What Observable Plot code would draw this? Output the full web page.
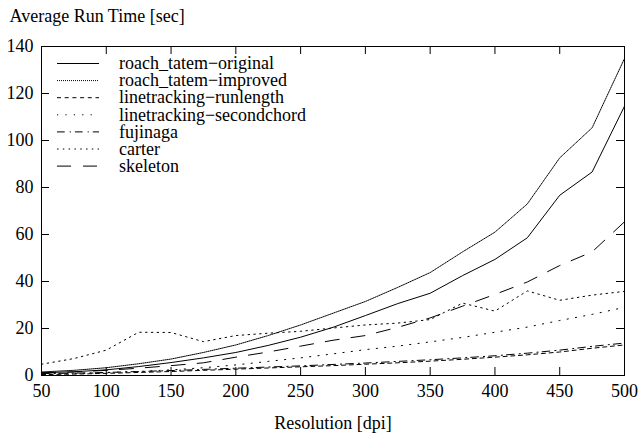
<!DOCTYPE html>
<html><head><meta charset="utf-8">
<script src="https://cdn.jsdelivr.net/npm/d3@7"></script>
<script src="https://cdn.jsdelivr.net/npm/@observablehq/plot@0.6"></script>
<style>
html,body{margin:0;padding:0;background:#fff}
</style>
</head><body><div id="chart"></div>
<script>
const resolution = [50,75,100,125,150,175,200,225,250,275,300,325,350,375,400,425,450,475,500];
const seriesNames = ["roach_tatem\u2212original","roach_tatem\u2212improved","linetracking\u2212runlength","linetracking\u2212secondchord","fujinaga","carter","skeleton"];
const original    = [1.2,1.6,2.4,3.8,5.5,7.5,9.8,12.8,16.3,20.5,25.5,30.6,35,42.5,49.4,58.6,76.7,86.6,114.6];
const improved    = [1.5,2.2,3.3,5,7,9.8,13,17,21.5,26.5,31.5,37.5,43.8,52.6,61,73,92.6,105.4,134.9];
const runlength   = [0.4,0.6,0.9,1.3,1.7,2.2,2.7,3.2,3.7,4.2,4.8,5.4,6.1,6.9,7.8,8.8,10,11.6,13];
const secondchord = [0.5,0.8,1.2,1.7,2.4,3.3,4.5,6,7.5,9.2,11,12.5,14.3,16.2,18.4,20.6,23.4,26,29];
const fujinaga    = [0.8,1.0,1.3,1.7,2.1,2.6,3.1,3.6,4.1,4.7,5.3,6,6.7,7.5,8.4,9.5,10.8,12.4,13.8];
const carter      = [4.8,7.2,10.8,18.4,18.3,14.4,17,18,18.8,20.2,21.5,22.3,23.8,30.8,27.4,36,32,34.2,35.8];
const skeleton    = [1.0,1.5,2.2,3.1,4.2,5.4,7.8,10,12.5,15,17,20.5,24.5,29.5,34.5,39.8,46.8,52.6,65.4];
const xTicks = [50,100,150,200,250,300,350,400,450,500];
const yTicks = [0,20,40,60,80,100,120,140];
const yTitle = "Average Run Time [sec]";
const xTitle = "Resolution [dpi]";

const seriesValues = [original, improved, runlength, secondchord, fujinaga, carter, skeleton];
const dashes = [null, "1,1", "4,3.7", "1.2,7.2", "7.7,5,1.2,4", "1.5,4.3", "14,12"];

const rows = [];
seriesNames.forEach((name, i) => seriesValues[i].forEach((v, j) => rows.push({name, x: resolution[j], y: v})));

const W = 641, H = 434, mL = 41, mR = 17, mT = 46, mB = 59;
const pw = W - mL - mR, ph = H - mT - mB, tk = 8;
const font = "'Liberation Serif','Times New Roman',serif";

const plot = Plot.plot({
  width: W, height: H,
  marginLeft: mL, marginRight: mR, marginTop: mT, marginBottom: mB,
  style: {fontFamily: font, fontSize: "18px", color: "black", background: "white", overflow: "visible"},
  x: {domain: [50, 500]},
  y: {domain: [0, 140]},
  marks: [
    ...seriesNames.map((name, i) => Plot.line(rows.filter(d => d.name === name), {
      x: "x", y: "y", stroke: "black", strokeWidth: 1, strokeDasharray: dashes[i]
    })),
    Plot.tickX(xTicks, {x: d => d, stroke: "black", insetTop: ph - tk}),
    Plot.tickX(xTicks, {x: d => d, stroke: "black", insetBottom: ph - tk}),
    Plot.tickY(yTicks, {y: d => d, stroke: "black", insetRight: pw - tk}),
    Plot.tickY(yTicks, {y: d => d, stroke: "black", insetLeft: pw - tk}),
    Plot.frame({stroke: "black"}),
    Plot.axisX(xTicks, {tickSize: 0, tickPadding: 9, label: null}),
    Plot.axisY(yTicks, {tickSize: 0, tickPadding: 8, label: null}),
    Plot.text([yTitle], {text: d => d, frameAnchor: "top-left", dx: -32, dy: -25, textAnchor: "start", lineAnchor: "bottom"}),
    Plot.text([xTitle], {text: d => d, frameAnchor: "bottom", dy: 53, lineAnchor: "bottom"})
  ]
});

const svg = d3.select(plot);
const lg = svg.append("g").attr("font-family", font).attr("font-size", 18).attr("text-anchor", "start");
seriesNames.forEach((name, i) => {
  const y = 63.5 + i * 17.1;
  lg.append("line").attr("x1", 57).attr("x2", 99).attr("y1", y).attr("y2", y)
    .attr("stroke", "black").attr("stroke-width", 1)
    .attr("stroke-dasharray", dashes[i]);
  lg.append("text").attr("x", 119).attr("y", y).attr("dy", "0.32em").attr("fill", "black")
    .attr("text-anchor", "start").text(name);
});

document.getElementById("chart").appendChild(plot);
</script>
</body></html>
